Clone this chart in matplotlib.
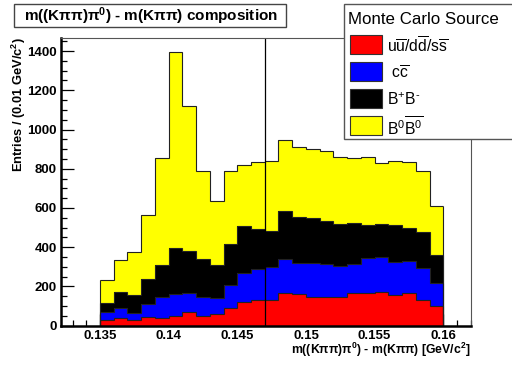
import numpy as np
import matplotlib
matplotlib.use("Agg")
import matplotlib.pyplot as plt
from matplotlib.patches import Rectangle
from matplotlib.ticker import MultipleLocator, FixedLocator

plt.rcParams["font.family"] = ["Liberation Sans", "DejaVu Sans"]
plt.rcParams["mathtext.fontset"] = "custom"
plt.rcParams["mathtext.rm"] = "Liberation Sans"
plt.rcParams["mathtext.it"] = "Liberation Sans:italic"
plt.rcParams["mathtext.bf"] = "Liberation Sans:bold"
plt.rcParams["mathtext.sf"] = "Liberation Sans"

# Histogram binning (GeV/c^2)
bin_lo = 0.135
bin_width = 0.001
n_bins = 25

# Per-component entries per bin
uds = [29, 37, 29, 46, 41, 49, 68, 49, 59, 88, 122, 132, 132, 166, 164,
       147, 147, 147, 166, 169, 174, 156, 169, 132, 102]
ccbar = [39, 51, 35, 67, 106, 115, 101, 95, 80, 119, 149, 156, 168, 173, 158,
         173, 170, 156, 147, 175, 175, 171, 163, 163, 115]
bpbm = [47, 85, 92, 124, 161, 234, 212, 195, 172, 208, 237, 203, 182, 248, 233,
        228, 218, 213, 208, 171, 171, 184, 166, 184, 145]
b0b0 = [119, 164, 221, 327, 547, 999, 741, 448, 324, 372, 313, 342, 356, 358, 356,
        354, 357, 342, 334, 343, 311, 330, 338, 308, 247]

labels = [r"u$\overline{\mathrm{u}}$/d$\overline{\mathrm{d}}$/s$\overline{\mathrm{s}}$",
          r" c$\overline{\mathrm{c}}$",
          r"B$^{+}$B$^{\text{-}}$",
          r"B$^{0}\overline{\mathrm{B}^{0}}$"]
colors = ["#ff0000", "#0000ff", "#000000", "#ffff00"]

cut_x = 0.147
x_major = [0.135, 0.14, 0.145, 0.15, 0.155, 0.16]
x_major_labels = ["0.135", "0.14", "0.145", "0.15", "0.155", "0.16"]

W, H = 512, 365
fig = plt.figure(figsize=(W / 100, H / 100), dpi=100)
ax = fig.add_axes([60.7 / W, 1 - 325.7 / H, (471 - 60.7) / W, (325.7 - 37.7) / H])

edges = bin_lo + bin_width * np.arange(n_bins + 1)
comps = [np.array(c, float) for c in (uds, ccbar, bpbm, b0b0)]
cum = np.cumsum(comps, axis=0)

# ROOT THStack style: draw totals from the top layer down, each filled from 0
for k in range(3, -1, -1):
    ax.stairs(cum[k], edges, baseline=0, fill=True, facecolor=colors[k],
              edgecolor="none", zorder=2)
    ax.stairs(cum[k], edges, baseline=None, color="#222222", lw=0.8, zorder=2.5)
    ax.vlines([edges[0], edges[-1]], 0, cum[k][[0, -1]], color="#222222", lw=0.8, zorder=2.5)

ax.axvline(cut_x, color="black", lw=0.9, zorder=3)

ax.set_xlim(0.13214, 0.16202)
ax.set_ylim(0, 1468)

ax.xaxis.set_major_locator(FixedLocator(x_major))
ax.set_xticklabels(x_major_labels)
ax.xaxis.set_minor_locator(MultipleLocator(0.001))
ax.yaxis.set_major_locator(MultipleLocator(200))
ax.yaxis.set_minor_locator(MultipleLocator(50))
ax.tick_params(which="both", direction="in", top=False, right=False, width=0.9,
               labelsize=9.5)
ax.tick_params(which="major", length=9)
ax.tick_params(which="minor", length=4.5)
ax.tick_params(axis="y", pad=3)
ax.tick_params(axis="x", pad=3)
for t in ax.get_xticklabels() + ax.get_yticklabels():
    t.set_fontweight("bold")

for s in ("left", "bottom"):
    ax.spines[s].set_linewidth(1.8)
for s in ("top", "right"):
    ax.spines[s].set_linewidth(0.8)
    ax.spines[s].set_color("#555555")
for s in ax.spines.values():
    s.set_zorder(4)

fig.text(19 / W, 1 - 37 / H, r"Entries / (0.01 GeV/c$^{\mathbf{2}}$)", rotation=90,
         ha="center", va="top", fontsize=9.3, fontweight="bold")
fig.text(471 / W, 1 - 350 / H, r"m((K$\mathbf{\pi\pi}$)$\mathbf{\pi}^{\mathbf{0}}$) - m(K$\mathbf{\pi\pi}$) [GeV/c$^{\mathbf{2}}$]",
         ha="right", va="center", fontsize=8.8, fontweight="bold")

# title box
fig.patches.append(Rectangle((14.3 / W, 1 - 26.7 / H), (286 - 14.3) / W, 22.7 / H,
                             transform=fig.transFigure, facecolor="white",
                             edgecolor="#444444", lw=1.0))
fig.text(150.5 / W, 1 - 16.5 / H, r"m((K$\mathbf{\pi\pi}$)$\mathbf{\pi}^{\mathbf{0}}$) - m(K$\mathbf{\pi\pi}$) composition",
         ha="center", va="center", fontsize=11, fontweight="bold")

# legend box (runs off the right edge like the original)
fig.patches.append(Rectangle((344 / W, 1 - 139 / H), (520 - 344) / W, 135 / H,
                             transform=fig.transFigure, facecolor="white",
                             edgecolor="#555555", lw=1.0, zorder=5))
fig.text(348 / W, 1 - 19 / H, "Monte Carlo Source", ha="left", va="center",
         fontsize=12.2, zorder=6)
box_y = [35, 62, 89, 116]
for k in range(4):
    fig.patches.append(Rectangle((350 / W, 1 - (box_y[k] + 19) / H), 31.7 / W, 19 / H,
                                 transform=fig.transFigure, facecolor=colors[k],
                                 edgecolor="#333333", lw=0.8, zorder=6))
    fig.text(387 / W, 1 - (box_y[k] + 11) / H, labels[k], ha="left", va="center",
             fontsize=11.3, zorder=6)

fig.savefig("out.png", dpi=100)
